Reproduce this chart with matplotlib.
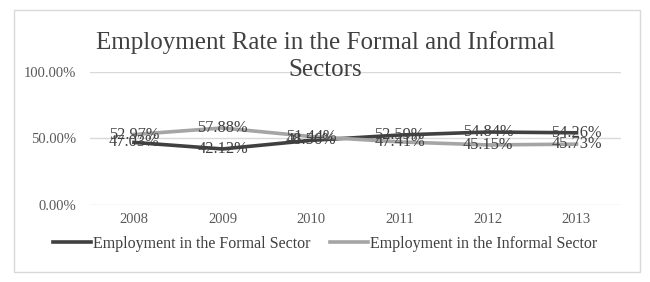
import matplotlib.pyplot as plt
from matplotlib.patches import Rectangle
from matplotlib.ticker import PercentFormatter

years = ["2008", "2009", "2010", "2011", "2012", "2013"]
formal = [47.03, 42.12, 48.56, 52.59, 54.84, 54.26]
informal = [52.97, 57.88, 51.44, 47.41, 45.15, 45.73]

plt.rcParams['font.family'] = ['Liberation Serif', 'DejaVu Serif']

fig = plt.figure(figsize=(6.5, 2.82), dpi=100)
ax = fig.add_axes([0.138, 0.273, 0.817, 0.472])

x = range(len(years))
ax.plot(x, formal, color="#404040", lw=2.6, label="Employment in the Formal Sector", zorder=3)
ax.plot(x, informal, color="#A5A5A5", lw=2.6, label="Employment in the Informal Sector", zorder=3)

# data labels sit centred on each point
for i in x:
    ax.text(i, informal[i], f"{informal[i]:.2f}%", ha="center", va="center",
            fontsize=11.8, color="#404040", zorder=4)
    ax.text(i, formal[i], f"{formal[i]:.2f}%", ha="center", va="center",
            fontsize=11.8, color="#404040", zorder=4)

ax.set_xlim(-0.5, len(years) - 0.5)
ax.set_ylim(0, 100)
ax.set_yticks([0, 50, 100])
ax.yaxis.set_major_formatter(PercentFormatter(decimals=2))
ax.set_xticks(list(x))
ax.set_xticklabels(years)
ax.tick_params(length=0, labelsize=10.5, labelcolor="#595959")
ax.tick_params(axis="x", pad=6)
ax.tick_params(axis="y", pad=10)
ax.grid(axis="y", color="#D9D9D9", lw=1)
ax.set_axisbelow(True)
for s in ax.spines.values():
    s.set_visible(False)

fig.text(0.5, 0.85, "Employment Rate in the Formal and Informal", ha="center", va="center",
         fontsize=18, color="#404040")
fig.text(0.5, 0.75, "Sectors", ha="center", va="center", fontsize=18, color="#404040")

fig.legend(loc="center", bbox_to_anchor=(0.5, 0.135), ncol=2, frameon=False,
           fontsize=11.5, labelcolor="#404040", handlelength=2.4, handletextpad=0.1,
           columnspacing=1.2)

fig.patches.append(Rectangle((14 / 650, 10 / 282), 626 / 650, 262 / 282, transform=fig.transFigure,
                             fill=False, edgecolor="#D9D9D9", lw=1))

fig.savefig("out.png", dpi=100)
